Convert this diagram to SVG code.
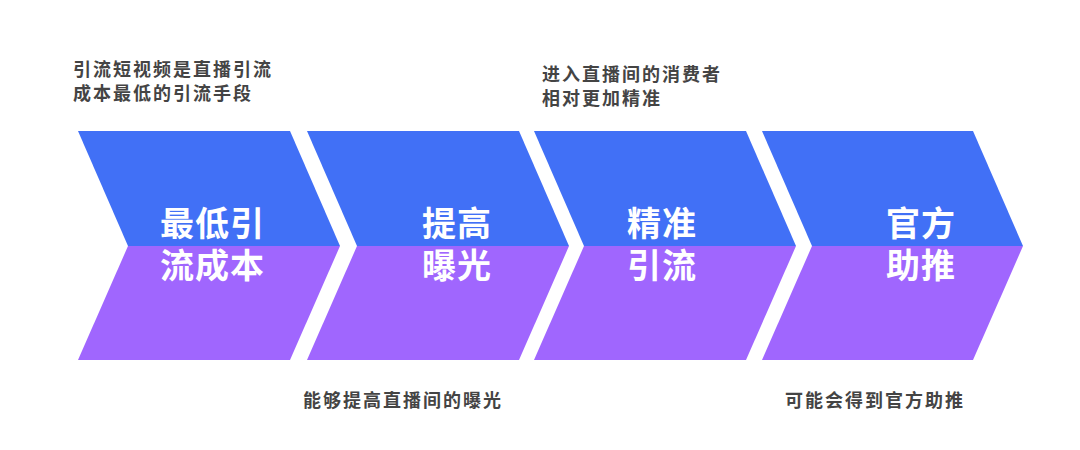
<svg xmlns="http://www.w3.org/2000/svg" width="1080" height="450" viewBox="0 0 1080 450">
<defs>
<style>
.top{fill:#4170F6}
.bot{fill:#A066FE}
.lbl{font-family:"Noto Sans CJK SC","Noto Sans",sans-serif;font-weight:bold;font-size:34px;fill:#fff;letter-spacing:1px}
.note{font-family:"Noto Sans CJK SC","Noto Sans",sans-serif;font-weight:bold;font-size:18px;fill:#444;letter-spacing:2px}
</style>
</defs>
<rect width="1080" height="450" fill="#fff"/>
<g id="step1">
<polygon class="top" points="78,131 290,131 340,246 128,246"/>
<polygon class="bot" points="128,246 340,246 290,360 78,360"/>
<text class="lbl" x="160" y="236">最低引</text>
<text class="lbl" x="160" y="278">流成本</text>
</g>
<g id="step2">
<polygon class="top" points="307,131 519,131 569,246 357,246"/>
<polygon class="bot" points="357,246 569,246 519,360 307,360"/>
<text class="lbl" x="422" y="236">提高</text>
<text class="lbl" x="422" y="278">曝光</text>
</g>
<g id="step3">
<polygon class="top" points="534,131 746,131 796,246 584,246"/>
<polygon class="bot" points="584,246 796,246 746,360 534,360"/>
<text class="lbl" x="627" y="236">精准</text>
<text class="lbl" x="627" y="278">引流</text>
</g>
<g id="step4">
<polygon class="top" points="762,131 973,131 1023,246 812,246"/>
<polygon class="bot" points="812,246 1023,246 973,360 762,360"/>
<text class="lbl" x="886" y="236">官方</text>
<text class="lbl" x="886" y="278">助推</text>
</g>
<g id="notes">
<text class="note" x="73" y="76">引流短视频是直播引流</text>
<text class="note" x="73" y="100">成本最低的引流手段</text>
<text class="note" x="542" y="81">进入直播间的消费者</text>
<text class="note" x="542" y="105">相对更加精准</text>
<text class="note" x="303" y="407">能够提高直播间的曝光</text>
<text class="note" x="785" y="407">可能会得到官方助推</text>
</g>
<g id="connectors"></g>
</svg>
